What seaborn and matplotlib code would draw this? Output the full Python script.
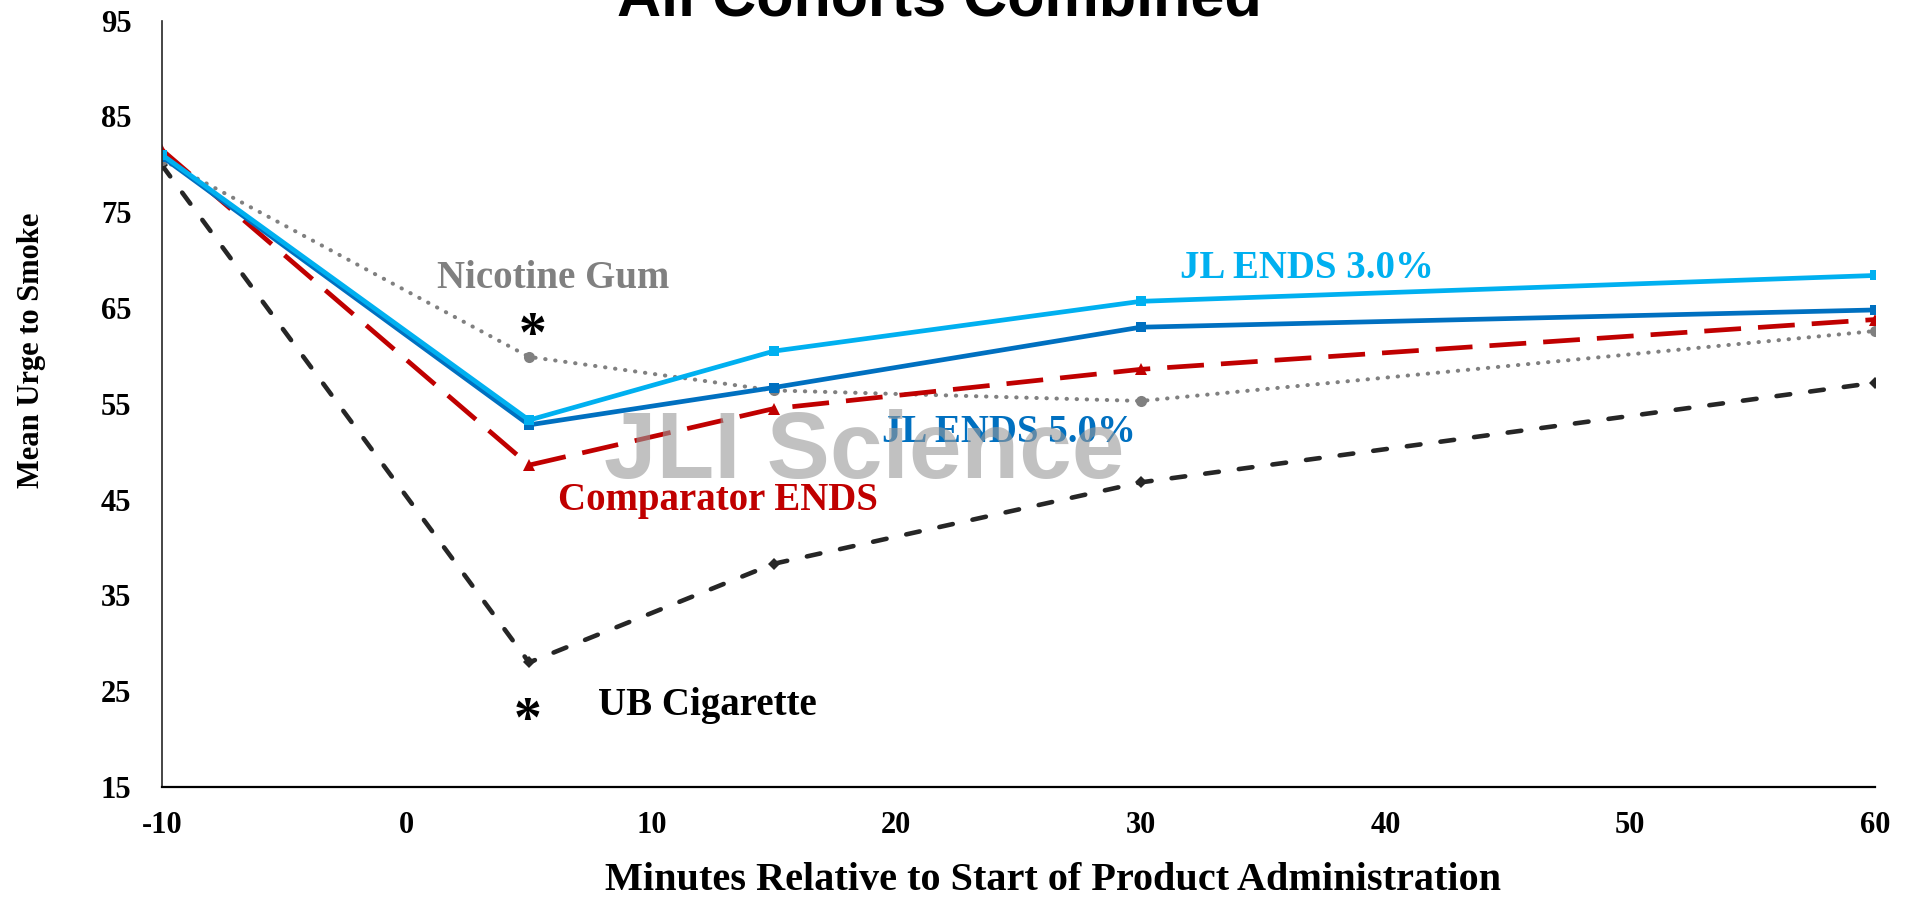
import numpy as np
import pandas as pd
import matplotlib
matplotlib.use("Agg")
import matplotlib.pyplot as plt
import seaborn as sns

# ---- data ----
minutes = [-10, 5, 15, 30, 60]
jl_ends_30 = [81.0, 53.3, 60.5, 65.7, 68.4]
jl_ends_50 = [80.8, 52.8, 56.7, 63.0, 64.8]
comparator_ends = [81.5, 48.6, 54.5, 58.6, 63.8]
nicotine_gum = [80.5, 59.9, 56.4, 55.3, 62.6]
ub_cigarette = [79.9, 28.0, 38.3, 46.8, 57.2]

series_names = ["UB Cigarette", "Nicotine Gum", "Comparator ENDS", "JL ENDS 5.0%", "JL ENDS 3.0%"]
series_values = [ub_cigarette, nicotine_gum, comparator_ends, jl_ends_50, jl_ends_30]

x_ticks = [-10, 0, 10, 20, 30, 40, 50, 60]
y_ticks = [15, 25, 35, 45, 55, 65, 75, 85, 95]

df = pd.DataFrame({
    "Minutes": np.tile(minutes, len(series_names)),
    "Urge": np.concatenate(series_values),
    "Product": np.repeat(series_names, len(minutes)),
})

palette = {
    "JL ENDS 3.0%": "#00B0F0",
    "JL ENDS 5.0%": "#0070C0",
    "Comparator ENDS": "#C00000",
    "Nicotine Gum": "#808080",
    "UB Cigarette": "#262626",
}
markers = {
    "JL ENDS 3.0%": "s",
    "JL ENDS 5.0%": "s",
    "Comparator ENDS": "^",
    "Nicotine Gum": "o",
    "UB Cigarette": "D",
}
dashes = {
    "JL ENDS 3.0%": "",
    "JL ENDS 5.0%": "",
    "Comparator ENDS": (7.8, 3.6),
    "Nicotine Gum": (0.1, 2.4),
    "UB Cigarette": (3.0, 4.4),
}
widths = {
    "JL ENDS 3.0%": 3.4,
    "JL ENDS 5.0%": 3.4,
    "Comparator ENDS": 3.4,
    "Nicotine Gum": 2.9,
    "UB Cigarette": 3.3,
}
marker_sizes = {
    "JL ENDS 3.0%": 7.5,
    "JL ENDS 5.0%": 7.5,
    "Comparator ENDS": 8.5,
    "Nicotine Gum": 8.0,
    "UB Cigarette": 6.5,
}

sns.set_theme(style="white")
plt.rcParams["font.family"] = ["Liberation Serif", "DejaVu Serif"]
plt.rcParams["font.weight"] = "bold"
plt.rcParams["axes.unicode_minus"] = False
plt.rcParams["text.color"] = "black"
plt.rcParams["xtick.color"] = "black"
plt.rcParams["ytick.color"] = "black"
plt.rcParams["axes.labelcolor"] = "black"

fig = plt.figure(figsize=(19.13, 8.99), dpi=100)
ax = fig.add_axes([0.0847, 0.1246, 0.8953, 0.8524])

sns.lineplot(data=df, x="Minutes", y="Urge", hue="Product", style="Product",
             hue_order=series_names, style_order=series_names,
             palette=palette, markers=markers, dashes=dashes,
             markersize=7, markeredgewidth=0, legend=False, ax=ax)

for line, name in zip(ax.lines, series_names):
    line.set_linewidth(widths[name])
    line.set_markersize(marker_sizes[name])
    if name in ("Nicotine Gum", "UB Cigarette"):
        line.set_dash_capstyle("round")

ax.set_xlim(-10, 60)
ax.set_ylim(15, 95)
ax.set_xticks(x_ticks)
ax.set_yticks(y_ticks)
ax.tick_params(axis="both", length=0, labelsize=22, labelcolor="black")
ax.tick_params(axis="x", pad=17)
ax.tick_params(axis="y", pad=22)
for lab in ax.get_xticklabels() + ax.get_yticklabels():
    lab.set_fontweight("bold")

for side in ["top", "right"]:
    ax.spines[side].set_visible(False)
ax.spines["left"].set_color("#262626")
ax.spines["left"].set_linewidth(1.2)
ax.spines["bottom"].set_color("#000000")
ax.spines["bottom"].set_linewidth(1.6)

ax.set_xlabel("Minutes Relative to Start of Product Administration",
              fontsize=29, fontweight="bold", color="black")
ax.set_ylabel("Mean Urge to Smoke", fontsize=22, fontweight="bold", color="black")
ax.xaxis.label.set_va("center")
ax.xaxis.set_label_coords(0.520, -0.122)
ax.yaxis.set_label_coords(-0.068, 0.57)

# series labels
lab_kw = dict(fontsize=28, fontweight="bold", ha="center", va="center")
ax.text(6.0, 68.1, "Nicotine Gum", color="#808080", **lab_kw)
ax.text(36.8, 69.1, "JL ENDS 3.0%", color="#00B0F0", **lab_kw)
ax.text(24.6, 52.0, "JL ENDS 5.0%", color="#0070C0", **lab_kw)
ax.text(12.7, 44.9, "Comparator ENDS", color="#C00000", **lab_kw)
ax.text(12.3, 23.5, "UB Cigarette", color="black", **lab_kw)
star_kw = dict(fontsize=40, fontweight="bold", ha="center", va="center", color="black")
ax.text(5.15, 62.0, "*", **star_kw)
ax.text(4.95, 21.8, "*", **star_kw)

# watermark
ax.text(18.7, 49.8, "JLI Science", family=["Liberation Sans", "DejaVu Sans"], fontsize=68,
        fontweight="bold", color="#999999", alpha=0.6, ha="center", va="center", zorder=10)

# title (cut off at top of the image)
fig.text(0.491, 1 - 15 / 899, "All Cohorts Combined", family=["Liberation Sans", "DejaVu Sans"],
         fontsize=44, fontweight="bold", color="black", ha="center", va="baseline")

fig.savefig("out.png", dpi=100)
